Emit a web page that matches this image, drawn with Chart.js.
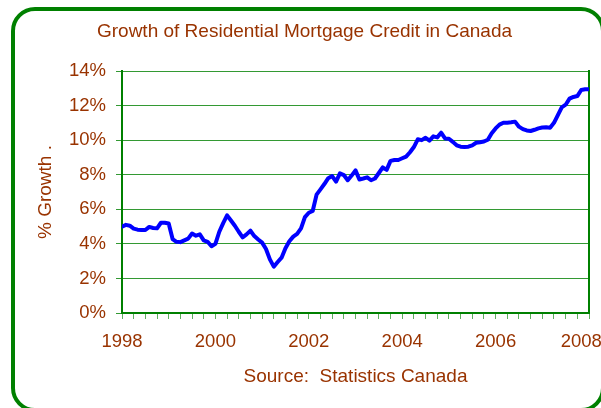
<!DOCTYPE html>
<html>
<head>
<meta charset="utf-8">
<script src="https://cdn.jsdelivr.net/npm/chart.js@4/dist/chart.umd.min.js"></script>
<style>
  html, body { margin: 0; padding: 0; background: #fff; overflow: hidden; }
  #wrap { position: relative; width: 601px; height: 408px; overflow: hidden; }
  #frame {
    position: absolute; left: 11px; top: 7px; width: 594px; height: 405px;
    box-sizing: border-box; border: 4px solid #008000; border-radius: 24px;
  }
  canvas { position: absolute; left: 0; top: 0; }
</style>
</head>
<body>
<div id="wrap">
  <canvas id="chart" width="601" height="408"></canvas>
  <div id="frame"></div>
</div>
<script>
// monthly growth (%) Jan 1998 .. Jan 2008
const growth = [
  5.00, 5.10, 5.05, 4.88, 4.82, 4.80, 4.80, 4.98, 4.92, 4.90, 5.22, 5.22,
  5.18, 4.28, 4.12, 4.10, 4.20, 4.30, 4.60, 4.47, 4.55, 4.20, 4.12, 3.86,
  4.00, 4.70, 5.20, 5.65, 5.35, 5.05, 4.70, 4.38, 4.55, 4.76, 4.45, 4.25,
  4.07, 3.70, 3.10, 2.68, 2.95, 3.20, 3.75, 4.15, 4.42, 4.58, 4.90, 5.55,
  5.80, 5.90, 6.85, 7.15, 7.46, 7.80, 7.92, 7.60, 8.08, 7.98, 7.68, 7.95,
  8.25, 7.72, 7.78, 7.85, 7.68, 7.78, 8.10, 8.42, 8.28, 8.80, 8.85, 8.85,
  8.95, 9.05, 9.30, 9.60, 10.05, 10.00, 10.14, 9.97, 10.22, 10.16, 10.43, 10.10,
  10.08, 9.90, 9.70, 9.62, 9.60, 9.62, 9.70, 9.85, 9.88, 9.92, 10.02, 10.40,
  10.68, 10.90, 11.01, 11.01, 11.03, 11.07, 10.78, 10.64, 10.56, 10.53, 10.60, 10.68,
  10.73, 10.74, 10.72, 11.00, 11.45, 11.90, 12.05, 12.40, 12.50, 12.55, 12.90, 12.94,
  12.94
];
// last label padded so it sits a little inside the plot edge, as in the original
const yearTicks = ['1998', '2000', '2002', '2004', '2006', '2008   '];
const yTicks = [0, 2, 4, 6, 8, 10, 12, 14];

const brown = '#993300';
const green = '#008000';
const gridGreen = '#339933';
const tickFont = { family: 'Liberation Sans, Arial, sans-serif', size: 18.5 };
const bigFont = { family: 'Liberation Sans, Arial, sans-serif', size: 19 };

// x = month index from Jan 1998
const points = growth.map((v, i) => ({ x: i, y: v }));

new Chart(document.getElementById('chart'), {
  type: 'line',
  data: {
    datasets: [{
      data: points,
      borderColor: '#0000ff',
      borderWidth: 4,
      pointRadius: 0,
      tension: 0,
      borderCapStyle: 'round',
      borderJoinStyle: 'round'
    }]
  },
  options: {
    responsive: false,
    animation: false,
    layout: { padding: { left: 20, right: 12, top: 0, bottom: 0 } },
    plugins: {
      legend: { display: false },
      tooltip: { enabled: false },
      title: {
        display: true,
        text: 'Growth of Residential Mortgage Credit in Canada',
        color: brown,
        font: { ...bigFont, weight: 'normal' },
        padding: { top: 20.6, bottom: 27.6 }
      }
    },
    scales: {
      x: {
        type: 'linear',
        min: 0,
        max: 120,
        border: { color: green, width: 2 },
        grid: { drawOnChartArea: false, drawTicks: true, tickLength: 6, color: '#5fae5f' },
        ticks: {
          stepSize: 3,
          autoSkip: false,
          maxRotation: 0,
          padding: 12,
          color: brown,
          font: tickFont,
          callback: v => (v % 24 === 0 ? yearTicks[v / 24] : '')
        },
        title: {
          display: true,
          text: 'Source:  Statistics Canada',
          color: brown,
          font: bigFont,
          padding: { top: 0, bottom: 19.6 }
        },
        afterFit: s => { s.height = 95; s.paddingLeft = 0; s.paddingRight = 0; }
      },
      y: {
        min: 0,
        max: 14,
        afterBuildTicks: s => { s.ticks = yTicks.map(v => ({ value: v })); },
        border: { color: green, width: 2 },
        grid: { color: gridGreen, lineWidth: 1, tickLength: 6 },
        ticks: { padding: 10, color: brown, font: tickFont, callback: v => v + '%' },
        title: {
          display: true,
          text: '% Growth .',
          color: brown,
          font: bigFont,
          padding: { top: 14, bottom: 0 }
        },
        afterFit: s => { s.width = 102; }
      },
      y2: {
        position: 'right',
        min: 0,
        max: 14,
        border: { color: green, width: 2 },
        grid: { drawOnChartArea: false, drawTicks: false },
        ticks: { display: false },
        afterFit: s => { s.width = 0; }
      }
    }
  }
});
</script>
</body>
</html>
